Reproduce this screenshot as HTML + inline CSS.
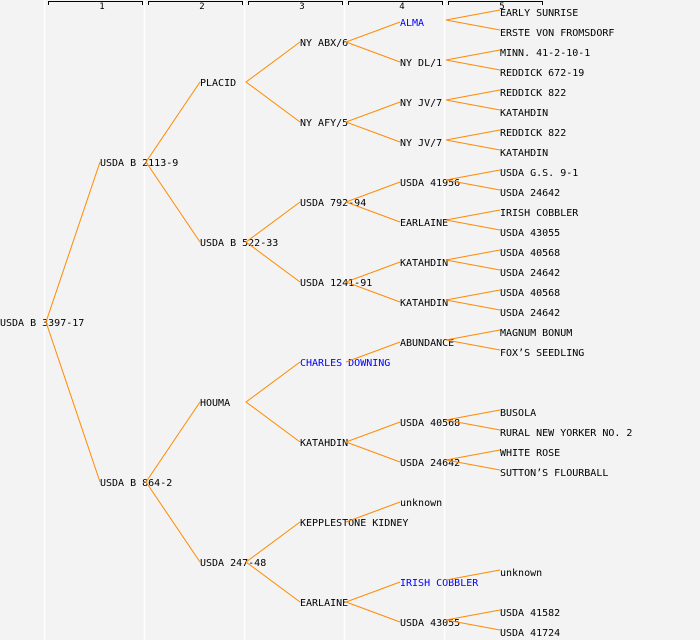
<!DOCTYPE html>
<html><head><meta charset="utf-8"><style>
html,body{margin:0;padding:0;background:#f3f3f3;}
svg{display:block;}
text{font-family:"DejaVu Sans Mono","Liberation Mono",monospace;font-size:10px;fill:#000;}
.b{fill:#0000ff;}
.h{font-size:9px;text-anchor:middle;}
</style></head><body>
<svg width="700" height="640" xmlns="http://www.w3.org/2000/svg">
<rect width="700" height="640" fill="#f3f3f3"/>
<g stroke="#ffffff" stroke-width="1.5">
<line x1="44.5" y1="0" x2="44.5" y2="640"/><line x1="144.5" y1="0" x2="144.5" y2="640"/><line x1="244.5" y1="0" x2="244.5" y2="640"/><line x1="344.5" y1="0" x2="344.5" y2="640"/><line x1="444.5" y1="0" x2="444.5" y2="640"/>
</g>
<g stroke="#000" fill="none" stroke-width="1">
<path d="M48.5,5 V1.5 H142.5 V5"/><path d="M148.5,5 V1.5 H242.5 V5"/><path d="M248.5,5 V1.5 H342.5 V5"/><path d="M348.5,5 V1.5 H442.5 V5"/><path d="M448.5,5 V1.5 H542.5 V5"/>
</g>
<text class="h" x="102" y="9">1</text><text class="h" x="202" y="9">2</text><text class="h" x="302" y="9">3</text><text class="h" x="402" y="9">4</text><text class="h" x="502" y="9">5</text>

<text x="0" y="326">USDA B 3397-17</text>
<text x="100" y="166">USDA B 2113-9</text>
<text x="100" y="486">USDA B 864-2</text>
<text x="200" y="86">PLACID</text>
<text x="200" y="246">USDA B 522-33</text>
<text x="200" y="406">HOUMA</text>
<text x="200" y="566">USDA 247-48</text>
<text x="300" y="46">NY ABX/6</text>
<text x="300" y="126">NY AFY/5</text>
<text x="300" y="206">USDA 792-94</text>
<text x="300" y="286">USDA 1241-91</text>
<text x="300" y="366" class="b">CHARLES DOWNING</text>
<text x="300" y="446">KATAHDIN</text>
<text x="300" y="526">KEPPLESTONE KIDNEY</text>
<text x="300" y="606">EARLAINE</text>
<text x="400" y="26" class="b">ALMA</text>
<text x="400" y="66">NY DL/1</text>
<text x="400" y="106">NY JV/7</text>
<text x="400" y="146">NY JV/7</text>
<text x="400" y="186">USDA 41956</text>
<text x="400" y="226">EARLAINE</text>
<text x="400" y="266">KATAHDIN</text>
<text x="400" y="306">KATAHDIN</text>
<text x="400" y="346">ABUNDANCE</text>
<text x="400" y="426">USDA 40568</text>
<text x="400" y="466">USDA 24642</text>
<text x="400" y="506">unknown</text>
<text x="400" y="586" class="b">IRISH COBBLER</text>
<text x="400" y="626">USDA 43055</text>
<text x="500" y="16">EARLY SUNRISE</text>
<text x="500" y="36">ERSTE VON FROMSDORF</text>
<text x="500" y="56">MINN. 41-2-10-1</text>
<text x="500" y="76">REDDICK 672-19</text>
<text x="500" y="96">REDDICK 822</text>
<text x="500" y="116">KATAHDIN</text>
<text x="500" y="136">REDDICK 822</text>
<text x="500" y="156">KATAHDIN</text>
<text x="500" y="176">USDA G.S. 9-1</text>
<text x="500" y="196">USDA 24642</text>
<text x="500" y="216">IRISH COBBLER</text>
<text x="500" y="236">USDA 43055</text>
<text x="500" y="256">USDA 40568</text>
<text x="500" y="276">USDA 24642</text>
<text x="500" y="296">USDA 40568</text>
<text x="500" y="316">USDA 24642</text>
<text x="500" y="336">MAGNUM BONUM</text>
<text x="500" y="356">FOX’S SEEDLING</text>
<text x="500" y="416">BUSOLA</text>
<text x="500" y="436">RURAL NEW YORKER NO. 2</text>
<text x="500" y="456">WHITE ROSE</text>
<text x="500" y="476">SUTTON’S FLOURBALL</text>
<text x="500" y="576">unknown</text>
<text x="500" y="616">USDA 41582</text>
<text x="500" y="636">USDA 41724</text>

<g stroke="#ff8a00" stroke-width="1" fill="none">
<path d="M100,162 L46,322 L100,482"/>
<path d="M200,82 L146,162 L200,242"/>
<path d="M200,402 L146,482 L200,562"/>
<path d="M300,42 L246,82 L300,122"/>
<path d="M300,202 L246,242 L300,282"/>
<path d="M300,362 L246,402 L300,442"/>
<path d="M300,522 L246,562 L300,602"/>
<path d="M400,22 L346,42 L400,62"/>
<path d="M400,102 L346,122 L400,142"/>
<path d="M400,182 L346,202 L400,222"/>
<path d="M400,262 L346,282 L400,302"/>
<path d="M346,362 L400,342"/>
<path d="M400,422 L346,442 L400,462"/>
<path d="M346,522 L400,502"/>
<path d="M400,582 L346,602 L400,622"/>
<path d="M500,10 L446,20 L500,30"/>
<path d="M500,50 L446,60 L500,70"/>
<path d="M500,90 L446,100 L500,110"/>
<path d="M500,130 L446,140 L500,150"/>
<path d="M500,170 L446,180 L500,190"/>
<path d="M500,210 L446,220 L500,230"/>
<path d="M500,250 L446,260 L500,270"/>
<path d="M500,290 L446,300 L500,310"/>
<path d="M500,330 L446,340 L500,350"/>
<path d="M500,410 L446,420 L500,430"/>
<path d="M500,450 L446,460 L500,470"/>
<path d="M446,580 L500,570"/>
<path d="M500,610 L446,620 L500,630"/>
</g>
</svg>
</body></html>
